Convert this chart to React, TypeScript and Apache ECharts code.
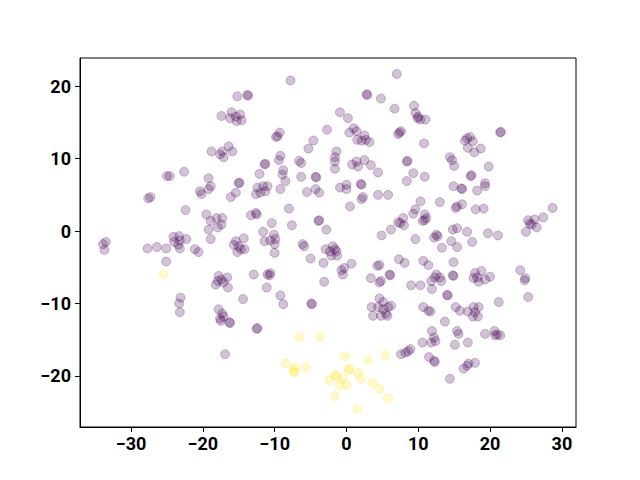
import React, { useEffect, useRef } from "react";
import * as echarts from "echarts";

const xTicks = [-30, -20, -10, 0, 10, 20, 30];
const yTicks = [-20, -10, 0, 10, 20];

const purplePoints: number[][] = [
  [-25.0, 7.6], [-24.6, 7.6], [-22.6, 8.2],
  [-7.8, 20.8], [-15.2, 18.6], [-13.8, 18.8], [-13.7, 18.7],
  [-17.4, 15.9], [-16.0, 16.4], [-16.2, 15.6], [-15.4, 15.8], [-14.8, 16.1], [-14.6, 15.3], [-15.3, 15.2],
  [-9.6, 13.1], [-9.3, 13.6], [-9.8, 13.0], [-2.7, 14.0], [-4.6, 12.5], [-5.3, 11.4],
  [-18.8, 11.0], [-17.3, 11.0], [-16.4, 11.7], [-15.9, 11.0], [-17.1, 10.2], [-17.6, 10.6],
  [-11.4, 9.2], [-11.3, 9.3], [-12.1, 7.9], [-9.2, 10.4], [-9.4, 9.8], [-8.8, 8.4], [-8.9, 7.8], [-8.5, 6.9],
  [-6.6, 9.7], [-6.3, 9.4], [-6.3, 7.5], [-4.2, 7.4], [-4.3, 7.5], [-19.2, 7.3], [-15.0, 6.6], [-14.9, 6.7],
  [7.0, 21.7], [2.9, 18.8], [2.8, 18.9], [4.8, 18.3], [-0.9, 16.4], [0.2, 15.6], [6.7, 16.9],
  [9.4, 17.3], [9.6, 16.3], [9.9, 15.6], [10.3, 15.4], [11.0, 15.4], [10.0, 15.8],
  [1.0, 14.2], [0.4, 13.6], [1.4, 13.8], [1.5, 12.6], [2.1, 12.5], [2.5, 13.2], [2.7, 12.6], [3.2, 12.3],
  [7.6, 13.8], [7.4, 13.6], [7.2, 13.4], [10.8, 12.1],
  [-1.4, 11.0], [-1.6, 10.2], [-1.6, 9.6], [-1.6, 8.6], [0.8, 9.2], [1.4, 9.6], [1.6, 8.9], [2.5, 9.8], [3.4, 9.1], [4.4, 8.1],
  [8.4, 9.6], [8.5, 9.7], [9.3, 8.0], [8.4, 6.9], [10.9, 7.5], [14.4, 10.2], [14.7, 9.8], [15.0, 9.0],
  [21.5, 13.7], [21.4, 13.6], [17.2, 13.0], [16.5, 12.5], [17.6, 12.4], [16.9, 11.5], [17.8, 10.9], [18.7, 11.4], [16.8, 12.8],
  [19.8, 8.9], [17.4, 7.7], [17.3, 7.6], [19.3, 6.6],
  [-27.6, 4.5], [-27.3, 4.7], [-33.9, -1.8], [-33.5, -1.5], [-33.7, -2.6],
  [-20.4, 5.5], [-20.2, 5.1], [-22.4, 2.9],
  [-24.1, -0.8], [-23.3, -0.7], [-24.0, -1.5], [-23.2, -1.3], [-22.3, -1.1], [-23.4, -1.9],
  [-27.7, -2.4], [-26.4, -2.2], [-25.1, -2.4], [-23.2, -2.4], [-21.1, -2.5], [-20.6, -2.9], [-25.1, -4.2],
  [-23.1, -9.2], [-23.3, -10.0], [-23.2, -11.2],
  [-19.2, 5.8], [-18.9, 6.2], [-16.1, 4.7], [-15.4, 5.3],
  [-12.4, 6.0], [-11.6, 6.2], [-11.3, 5.5], [-12.6, 5.1], [-12.0, 5.3], [-11.0, 6.2],
  [-9.2, 5.8], [-5.5, 5.4], [-4.3, 5.8], [-3.8, 5.3],
  [-13.3, 2.2], [-12.6, 2.5], [-12.5, 2.3], [-8.0, 3.1], [-7.6, 0.8], [-3.9, 1.4], [-3.8, 1.5], [-2.8, 0.2], [-10.4, 1.1],
  [-19.5, 2.3], [-18.9, 1.4], [-18.1, 1.8], [-17.3, 1.8], [-17.4, 0.9], [-17.9, 0.5], [-19.2, 0.2], [-18.9, -1.1],
  [-11.6, -0.1], [-10.1, -0.5], [-9.9, -1.1], [-10.0, -1.8], [-11.4, -1.4], [-10.6, -1.3], [-10.0, -3.0],
  [-15.4, -1.4], [-14.3, -1.0], [-15.0, -2.1], [-15.7, -1.9], [-14.7, -2.5], [-14.2, -2.5], [-15.2, -2.9],
  [-6.1, -1.8], [-5.9, -2.1], [-5.0, -3.8], [-3.2, -4.4], [-2.9, -2.5],
  [-12.9, -6.0], [-11.0, -6.0], [-10.7, -6.1], [-10.6, -5.8], [-11.1, -7.8], [-9.2, -8.9], [-8.8, -10.1], [-14.4, -9.4], [-3.1, -7.0], [-4.8, -10.1], [-4.9, -10.0],
  [-17.8, -6.2], [-17.9, -6.9], [-18.2, -7.4], [-17.4, -6.7], [-16.6, -6.4], [-17.1, -7.1], [-16.5, -7.8],
  [-17.8, -10.8], [-17.3, -11.4], [-17.6, -12.1], [-17.1, -11.8], [-17.5, -12.4], [-16.2, -12.7], [-16.3, -12.6], [-12.5, -13.5], [-12.4, -13.4], [-16.9, -17.0],
  [-0.9, 6.0], [0.0, 6.4], [0.0, 5.8], [2.1, 6.4], [2.0, 6.5], [2.3, 4.7], [2.1, 4.4], [4.4, 5.0], [5.8, 5.0], [0.5, 3.4],
  [10.3, 4.1], [13.0, 4.0], [9.6, 3.0], [9.3, 2.4], [10.9, 2.3], [11.1, 1.8], [10.6, 1.4], [10.9, 1.5],
  [7.9, 1.8], [7.5, 1.1], [8.0, 0.8], [7.2, 1.2], [6.2, 0.2], [4.9, -0.6], [9.6, -1.1],
  [12.5, -0.5], [12.7, -0.7], [12.2, -0.9], [13.3, -2.3], [14.6, -1.4], [14.8, 0.2],
  [-1.9, -2.1], [-2.3, -2.8], [-1.6, -2.5], [-1.3, -3.4], [-2.1, -3.4], [-1.4, -2.8],
  [0.7, -4.5], [-0.7, -5.4], [-0.5, -6.0], [-0.3, -5.1], [4.6, -4.7], [4.3, -4.8], [7.3, -3.9], [8.1, -4.4],
  [6.0, -6.0], [6.1, -6.1], [3.4, -6.5], [4.6, -7.1], [4.8, -6.9], [10.7, -4.1], [11.4, -4.7],
  [9.0, -7.5], [10.3, -7.5], [11.8, -6.9], [12.3, -6.4], [11.9, -8.0], [12.5, -6.0], [13.0, -6.4], [13.2, -6.9],
  [14.0, -8.8], [14.1, -8.9], [4.6, -9.3], [5.1, -9.8],
  [14.9, 6.2], [16.1, 5.8], [16.0, 5.9], [18.2, 5.6], [19.3, 6.2], [15.4, 3.4], [15.2, 3.2], [16.1, 3.7], [18.0, 3.0], [19.1, 3.1],
  [28.7, 3.2], [27.4, 1.9], [25.3, 1.5], [26.2, 1.6], [25.8, 0.9], [26.5, 0.5], [25.0, -0.1], [25.5, 1.0],
  [15.4, 0.4], [16.8, -0.1], [19.7, -0.3], [21.1, -0.6], [17.5, -1.5], [15.4, -2.2], [14.9, -4.3], [14.9, -6.2], [14.8, -6.1],
  [24.2, -5.4], [24.8, -6.8], [24.9, -6.5],
  [17.9, -5.8], [18.8, -5.5], [17.7, -6.5], [18.4, -7.0], [19.3, -6.7], [20.0, -6.3], [18.2, -6.4],
  [25.3, -9.1], [21.2, -9.8],
  [3.5, -10.5], [4.4, -10.5], [5.1, -10.8], [5.8, -10.5], [3.7, -11.7], [4.8, -11.7], [5.5, -11.4], [5.7, -11.7], [6.2, -10.3],
  [10.7, -10.5], [11.4, -11.0], [11.7, -11.1], [13.7, -12.5],
  [11.9, -13.8], [12.2, -14.7], [11.8, -15.4], [12.4, -15.2], [10.6, -15.4],
  [7.6, -17.0], [8.2, -16.8], [8.6, -16.6], [8.9, -16.3],
  [11.5, -17.4], [12.2, -17.9], [12.3, -18.1], [14.4, -20.4],
  [15.2, -10.5], [15.8, -11.0], [16.9, -11.1], [17.7, -10.5], [17.9, -11.2], [17.6, -11.8], [18.3, -11.8], [18.4, -10.5],
  [15.4, -13.8], [15.6, -14.2], [15.1, -15.7], [16.9, -15.4],
  [19.3, -14.2], [20.6, -13.8], [21.0, -14.3], [20.7, -14.4], [21.4, -14.4],
  [17.9, -18.2], [17.0, -18.3], [16.8, -18.6], [16.3, -19.0],
];

const yellowPoints: number[][] = [
  [-25.5, -6.0], [-6.6, -14.7], [-3.7, -14.6], [-8.5, -18.3], [-7.2, -18.8], [-7.3, -19.3], [-7.3, -19.5],
  [-5.7, -18.8], [-2.4, -20.6], [-0.2, -17.3], [3.0, -17.8], [5.4, -17.1], [0.4, -19.0], [0.3, -19.2],
  [1.6, -19.6], [2.0, -20.4], [-1.6, -19.9], [-1.4, -20.0], [-0.5, -20.4], [0.0, -21.2], [-0.9, -21.3],
  [3.6, -21.0], [4.6, -21.8], [5.8, -23.1], [-1.6, -22.8], [1.5, -24.6],
];

const fmt = (v: number) => (v < 0 ? "\u2212" + Math.abs(v) : String(v));

export default function App() {
  const ref = useRef<HTMLDivElement>(null);
  useEffect(() => {
    if (!ref.current) return;
    const chart = echarts.init(ref.current, null, { renderer: "svg" });
    const axisCommon = {
      type: "value" as const,
      axisLine: { show: true, onZero: false, lineStyle: { color: "#000", width: 1 } },
      splitLine: { show: false },
    };
    const labelStyle = { fontFamily: "Roboto", fontWeight: "bold", fontSize: 18, color: "#000" };
    chart.setOption({
      animation: false,
      backgroundColor: "#fff",
      grid: {
        left: 80, right: 64, top: 58, bottom: 53,
        show: true, borderColor: "#000", borderWidth: 1, backgroundColor: "transparent",
      },
      xAxis: {
        ...axisCommon,
        min: -37.1, max: 31.96,
        axisTick: { show: true, length: 5, inside: false, customValues: xTicks, lineStyle: { color: "#000" } },
        axisLabel: { customValues: xTicks, margin: 7, formatter: fmt, ...labelStyle },
      },
      yAxis: {
        ...axisCommon,
        min: -27.06, max: 23.9,
        axisTick: { show: true, length: 5, inside: false, customValues: yTicks, lineStyle: { color: "#000" } },
        axisLabel: { customValues: yTicks, margin: 9, formatter: fmt, ...labelStyle },
      },
      series: [
        {
          type: "scatter",
          data: purplePoints,
          symbolSize: 9,
          itemStyle: { color: "rgba(68,1,84,0.3)", borderColor: "rgba(68,1,84,0.3)", borderWidth: 1 },
        },
        {
          type: "scatter",
          data: yellowPoints,
          symbolSize: 9,
          itemStyle: { color: "rgba(253,231,37,0.3)", borderColor: "rgba(253,231,37,0.3)", borderWidth: 1 },
        },
      ],
    });
    return () => chart.dispose();
  }, []);
  return <div ref={ref} style={{ position: "fixed", left: 0, top: 0, width: 640, height: 480 }} />;
}
